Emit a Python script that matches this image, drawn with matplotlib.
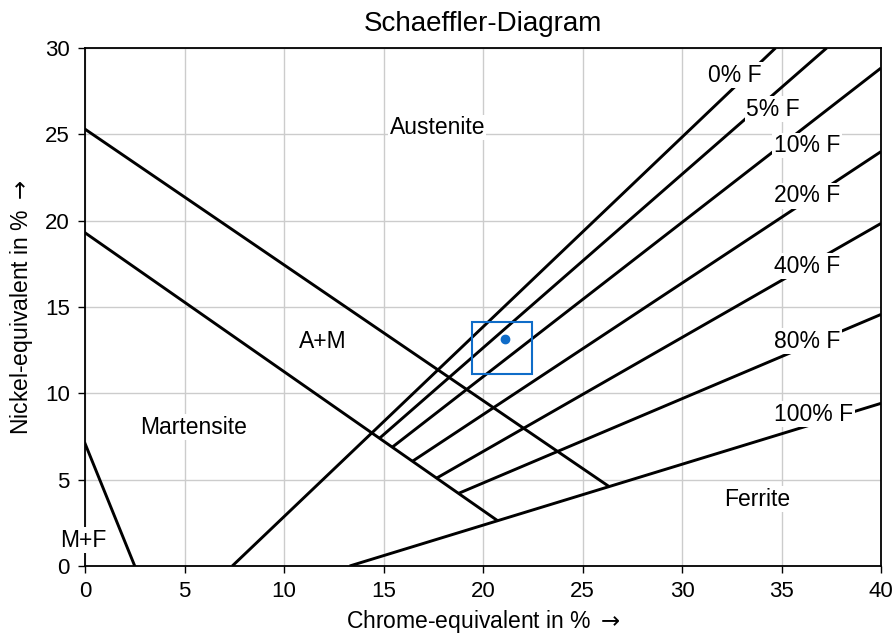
import matplotlib
matplotlib.use("Agg")
import matplotlib.pyplot as plt
from matplotlib.patches import Rectangle

plt.rcParams['font.family'] = ['Liberation Sans', 'DejaVu Sans']

# boundary lines (x, y pairs of end points)
mf_x, mf_y = [0, 2.5], [7.1, 0]
am_upper_x, am_upper_y = [0, 26.3], [25.3, 4.63]
am_lower_x, am_lower_y = [0, 20.69], [19.3, 2.66]

# ferrite lines: label, start, end
ferrite_labels = ["0% F", "5% F", "10% F", "20% F", "40% F", "80% F", "100% F"]
ferrite_x0 = [7.4, 14.82, 15.46, 16.46, 17.67, 18.76, 13.3]
ferrite_y0 = [0, 7.42, 6.9, 6.07, 5.09, 4.2, 0]
ferrite_x1 = [34.7, 37.27, 40, 40, 40, 40, 40]
ferrite_y1 = [30, 30, 28.84, 24.0, 19.84, 14.57, 9.42]
label_x = [32.66, 34.57, 36.28, 36.28, 36.28, 36.28, 36.63]
label_y = [28.43, 26.46, 24.35, 21.45, 17.37, 13.03, 8.8]

regions = ["Austenite", "A+M", "Martensite", "M+F", "Ferrite"]
region_x = [17.7, 11.96, 5.48, -0.1, 33.77]
region_y = [25.4, 13.0, 8.05, 1.5, 3.88]

# measured point and its tolerance box
pt_x, pt_y = 21.1, 13.14
box_x = [19.45, 22.46]
box_y = [11.12, 14.13]

fig = plt.figure(figsize=(8.96, 6.35), dpi=100)
ax = fig.add_axes([85/896, 1-566/635, (881-85)/896, (566-48)/635])

lw = 2.1
ax.plot(mf_x, mf_y, color="black", lw=lw)
ax.plot(am_upper_x, am_upper_y, color="black", lw=lw)
ax.plot(am_lower_x, am_lower_y, color="black", lw=lw)
for i in range(len(ferrite_labels)):
    ax.plot([ferrite_x0[i], ferrite_x1[i]], [ferrite_y0[i], ferrite_y1[i]],
            color="black", lw=lw, solid_capstyle="butt")
    ax.text(label_x[i], label_y[i], ferrite_labels[i], fontsize=16.5,
            ha="center", va="center", zorder=5,
            bbox=dict(facecolor="white", edgecolor="none", pad=1))

for name, x, y in zip(regions, region_x, region_y):
    ax.text(x, y, name, fontsize=16.5, ha="center", va="center", zorder=5,
            clip_on=False,
            bbox=dict(facecolor="white", edgecolor="none", pad=1))

blue = "#0f6cc8"
ax.add_patch(Rectangle((box_x[0], box_y[0]), box_x[1]-box_x[0], box_y[1]-box_y[0],
                       fill=False, edgecolor=blue, lw=1.5, zorder=4))
ax.plot(pt_x, pt_y, "o", color=blue, ms=6, zorder=4)

ax.set_xlim(0, 40)
ax.set_ylim(0, 30)
ax.set_xticks(range(0, 41, 5))
ax.set_yticks(range(0, 31, 5))
ax.tick_params(labelsize=16, length=5, width=1, pad=6, direction="out")
ax.grid(color="#cccccc", lw=1)
ax.set_axisbelow(True)
for s in ax.spines.values():
    s.set_linewidth(1.3)

ax.set_title("Schaeffler-Diagram", fontsize=20, pad=12)
ax.set_xlabel(r"Chrome-equivalent in % $\rightarrow$", fontsize=16.5, labelpad=4)
ax.set_ylabel(r"Nickel-equivalent in % $\rightarrow$", fontsize=16.5, labelpad=7)

fig.savefig("out.png", dpi=100)
